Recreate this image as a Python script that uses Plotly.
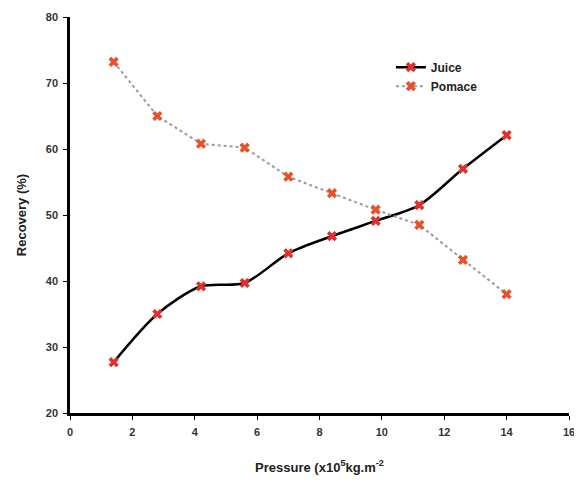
import plotly.graph_objects as go

pressure = [1.4, 2.8, 4.2, 5.6, 7.0, 8.4, 9.8, 11.2, 12.6, 14.0]
juice = [27.7, 35.0, 39.2, 39.7, 44.2, 46.8, 49.1, 51.5, 57.0, 62.1]
pomace = [73.2, 65.0, 60.8, 60.2, 55.8, 53.3, 50.8, 48.5, 43.2, 38.0]

FONT = "Liberation Sans, Arial"

fig = go.Figure()
fig.add_trace(go.Scatter(
    x=pressure, y=juice, name="<b>Juice</b>", mode="lines+markers",
    line=dict(color="black", width=2.5, shape="spline", smoothing=0.8),
    marker=dict(symbol="x", size=9, color="#e0302a", line=dict(width=0))))
fig.add_trace(go.Scatter(
    x=pressure, y=pomace, name="<b>Pomace</b>", mode="lines+markers",
    line=dict(color="#9a9a9a", width=2, dash="dot"),
    marker=dict(symbol="x", size=9, color="#e8502a", line=dict(width=0))))

axis_common = dict(showline=True, linecolor="black", linewidth=2.5,
                   ticks="outside", ticklen=4, tickcolor="black", tickwidth=1,
                   showgrid=False, zeroline=False, automargin=False,
                   ticklabelstandoff=3,
                   tickfont=dict(family=FONT, size=11, color="#333", weight="bold"))
fig.update_layout(
    width=574, height=476,
    margin=dict(l=62, r=13, t=9, b=71),
    plot_bgcolor="white", paper_bgcolor="white",
    xaxis=dict(range=[0, 16], dtick=2,
               title=dict(text="<b>Pressure (x10<sup>5</sup>kg.m<sup>-2</sup></b>",
                          font=dict(family=FONT, size=13, color="#222"),
                          standoff=26),
               **axis_common),
    yaxis=dict(range=[20, 80], dtick=10,
               title=dict(text="<b>Recovery (%)</b>",
                          font=dict(family=FONT, size=13, color="#222"),
                          standoff=17),
               **axis_common),
    legend=dict(x=0.643, y=0.91, xanchor="left", yanchor="top",
                bgcolor="rgba(0,0,0,0)", tracegroupgap=0,
                font=dict(family=FONT, size=12, color="#222")),
)
fig.write_html("out.html")
